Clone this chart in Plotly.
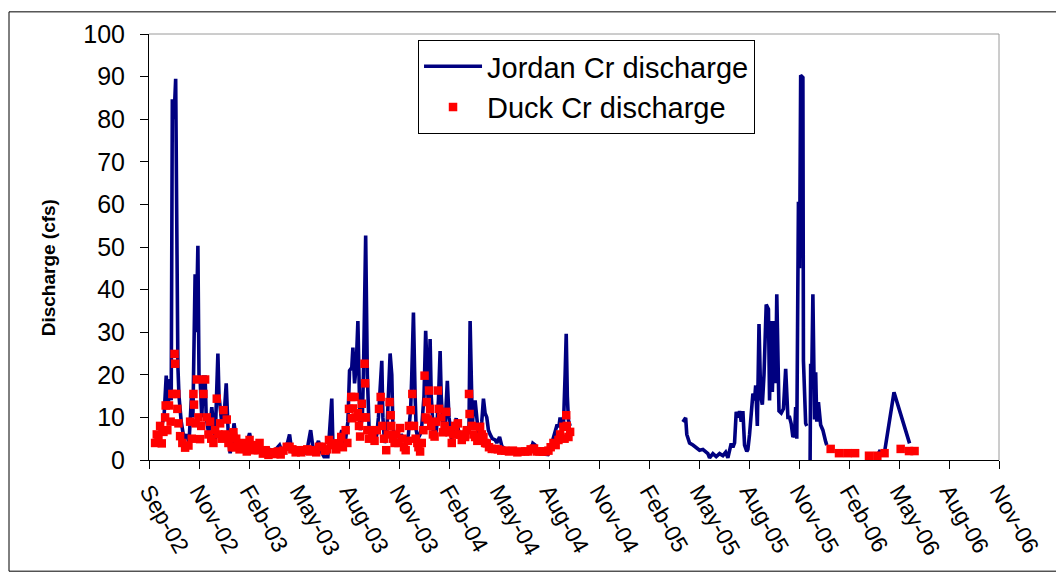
import plotly.graph_objects as go

# ---------------- data ----------------
jordan_dates = [
    "2002-09-17","2002-09-20","2002-09-24","2002-09-28","2002-10-02","2002-10-05","2002-10-09","2002-10-11",
    "2002-10-13","2002-10-16","2002-10-19","2002-10-21","2002-10-23","2002-10-25","2002-10-29","2002-11-03",
    "2002-11-08","2002-11-12","2002-11-17","2002-11-19","2002-11-23","2002-11-25","2002-11-28","2002-11-30",
    "2002-12-02","2002-12-05","2002-12-08","2002-12-11","2002-12-13","2002-12-17","2002-12-20","2002-12-23",
    "2002-12-26","2002-12-29","2003-01-03","2003-01-05","2003-01-10","2003-01-14","2003-01-18","2003-01-22",
    "2003-01-25","2003-01-29","2003-02-01","2003-02-05","2003-02-08","2003-02-13","2003-02-17","2003-02-22",
    "2003-03-01","2003-03-05","2003-03-10","2003-03-16","2003-03-21","2003-03-28","2003-04-03","2003-04-10",
    "2003-04-17","2003-04-24","2003-04-30","2003-05-05","2003-05-12","2003-05-16","2003-05-21","2003-05-30",
    "2003-06-07","2003-06-12","2003-06-19","2003-06-24","2003-06-29","2003-07-03","2003-07-08","2003-07-13",
    "2003-07-20","2003-07-27","2003-07-29","2003-08-01","2003-08-07","2003-08-14","2003-08-18","2003-08-21",
    "2003-08-25","2003-08-28","2003-09-01","2003-09-03","2003-09-06","2003-09-09","2003-09-12","2003-09-14",
    "2003-09-16","2003-09-20","2003-09-22","2003-09-26","2003-09-29","2003-10-02","2003-10-07","2003-10-12",
    "2003-10-16","2003-10-19","2003-10-25","2003-10-27","2003-10-30","2003-11-03","2003-11-06","2003-11-09",
    "2003-11-12","2003-11-14","2003-11-17","2003-11-22","2003-11-29","2003-12-03","2003-12-08","2003-12-12",
    "2003-12-16","2003-12-18","2003-12-21","2003-12-24","2003-12-26","2003-12-29","2004-01-02","2004-01-05",
    "2004-01-09","2004-01-12","2004-01-15","2004-01-17","2004-01-20","2004-01-22","2004-01-26","2004-01-29",
    "2004-02-01","2004-02-04","2004-02-07","2004-02-09","2004-02-13","2004-02-16","2004-02-20","2004-02-23",
    "2004-02-28","2004-03-03","2004-03-07","2004-03-11","2004-03-14","2004-03-19","2004-03-23","2004-03-27",
    "2004-03-30","2004-04-01","2004-04-03","2004-04-05","2004-04-07","2004-04-10","2004-04-13","2004-04-16",
    "2004-04-19","2004-04-22","2004-04-25","2004-04-28","2004-05-01","2004-05-04","2004-05-07","2004-05-11",
    "2004-05-16","2004-05-19","2004-05-24","2004-05-28","2004-06-03","2004-06-09","2004-06-16","2004-06-23",
    "2004-06-30","2004-07-07","2004-07-14","2004-07-20","2004-07-23","2004-07-27","2004-07-30","2004-08-04",
    "2004-08-12","2004-08-19","2004-08-24","2004-08-28","2004-08-31","2004-09-04","2004-09-08","2004-09-10",
    "2004-09-13","2004-09-16","2004-09-19","2004-09-21","2004-09-23","2004-09-25","2004-09-28",
    "2004-10-15",
    "2005-04-19","2005-04-22","2005-04-24","2005-04-26","2005-04-29","2005-05-01","2005-05-07","2005-05-12",
    "2005-05-19","2005-05-25","2005-05-31","2005-06-03","2005-06-06","2005-06-12","2005-06-18","2005-06-24",
    "2005-06-30","2005-07-05","2005-07-09","2005-07-12","2005-07-15","2005-07-18","2005-07-21","2005-07-24",
    "2005-07-28","2005-07-30","2005-08-02","2005-08-05","2005-08-08","2005-08-12","2005-08-14","2005-08-17",
    "2005-08-20","2005-08-23","2005-08-26","2005-08-28","2005-08-31","2005-09-03","2005-09-06","2005-09-09",
    "2005-09-12","2005-09-16","2005-09-20","2005-09-22","2005-09-25","2005-09-27","2005-10-01","2005-10-03",
    "2005-10-05","2005-10-09","2005-10-13","2005-10-17","2005-10-21","2005-10-25","2005-10-28","2005-10-31",
    "2005-11-03","2005-11-06","2005-11-08","2005-11-10","2005-11-13","2005-11-15","2005-11-17","2005-11-21",
    "2005-11-22","2005-11-26","2005-11-28",
    "2005-12-01",
    "2005-12-04","2005-12-05","2005-12-07","2005-12-09","2005-12-12","2005-12-14","2005-12-16","2005-12-19",
    "2005-12-23","2005-12-27","2006-01-01","2006-01-03",
    "2006-02-15",
    "2006-04-05","2006-04-10","2006-04-17","2006-05-04","2006-06-01",
]
jordan_cfs = [
    5,6.3,8,10,19.8,12,19,14,
    84.7,80,89.5,40,22,15,9,5,
    6,4,16.3,10,43.6,30,50.3,20,
    19,10,19.5,19.5,10,6.5,8,12.4,
    7,4.5,25,15,8.7,10,18,5,
    1.6,4,8.6,5,4,3,2.5,3,
    6.3,3.5,2.3,3.5,2.5,2.0,2.7,2.2,
    2.5,3.5,1.5,2.3,6,2,1.8,1.5,
    1.5,2,7,2,3,4.5,2,0.8,
    0.8,14.4,4,2.2,3.5,7,4,5,
    9,21,21.7,26.4,18,22,32.6,15,
    7,10,20,52.7,20,8,5,4,
    6,10,23.3,10,4,6,15,25,
    20,8,5,4,6,5,4,6,
    12,20,34.6,15,7,5,6,8,
    15,30.3,20,12,28.4,15,6,5,
    8,14,25.6,15,6,8,18.6,10,
    5,7,9.8,7,5,4,7.8,6,
    8,32.6,15,8,12,14,10,6,
    6,9,14.4,11,10,7,6,5,
    4.7,4,5.4,3.3,2.5,2.6,2.2,2,
    1.8,2,1.6,2.5,3.9,3.5,2,1.5,
    1.3,1.3,3,5,6.6,8,8,10,
    7,8,20,29.6,15,9.3,8,
    None,
    8.9,9.5,9.9,6,4.3,4,3.5,3,
    2.3,2.5,2,1.5,0.5,1.5,0.8,1.5,
    1.0,1.8,0.5,2,3.9,3,4,11.3,
    10,11.5,9,11.5,3.5,2,2.5,6,
    10,15.6,14,17.5,8,31.9,15,13,
    20,36.5,35.4,14,32.6,16,32.6,18,
    38.9,11.5,11,12,21.4,10,10,8.5,
    5.4,6,12.4,5,60.6,45,90.3,89.8,
    23.3,8.6,8,
    None,
    0,22.6,20,38.9,9.5,20.6,9,13.6,
    8.2,7,4.3,3.5,
    None,
    2.2,1.8,1.9,15.9,3.9,
]

duck_dates = [
    "2002-09-12","2002-09-15","2002-09-18","2002-09-21","2002-09-24","2002-09-27","2002-09-30","2002-10-01",
    "2002-10-04","2002-10-07","2002-10-10","2002-10-13","2002-10-17","2002-10-18","2002-10-20","2002-10-22",
    "2002-10-24","2002-10-27","2002-10-31","2002-11-05","2002-11-11","2002-11-14","2002-11-17","2002-11-20",
    "2002-11-21","2002-11-24","2002-11-26","2002-11-29","2002-12-02","2002-12-04","2002-12-08","2002-12-11",
    "2002-12-14","2002-12-17","2002-12-20","2002-12-22","2002-12-26","2002-12-29","2003-01-01","2003-01-04",
    "2003-01-07","2003-01-10","2003-01-13","2003-01-16","2003-01-19","2003-01-22","2003-01-25","2003-01-28",
    "2003-01-31","2003-02-03","2003-02-05","2003-02-08","2003-02-11","2003-02-15","2003-02-20","2003-02-24",
    "2003-03-01","2003-03-05","2003-03-08","2003-03-12","2003-03-16","2003-03-19","2003-03-25","2003-03-30",
    "2003-04-04","2003-04-10","2003-04-15","2003-04-21","2003-04-26","2003-05-01","2003-05-07","2003-05-12",
    "2003-05-17","2003-05-23","2003-05-28","2003-06-02","2003-06-08","2003-06-13","2003-06-18","2003-06-24",
    "2003-06-29","2003-07-04","2003-07-10","2003-07-15","2003-07-19","2003-07-22","2003-07-26","2003-07-31",
    "2003-08-04","2003-08-09","2003-08-13","2003-08-16","2003-08-21","2003-08-24","2003-08-27","2003-08-31",
    "2003-09-01","2003-09-03","2003-09-06","2003-09-08","2003-09-12","2003-09-14","2003-09-16","2003-09-19",
    "2003-09-21","2003-09-24","2003-09-25","2003-09-26","2003-09-29","2003-10-02","2003-10-04","2003-10-08",
    "2003-10-12","2003-10-16","2003-10-20","2003-10-23","2003-10-26","2003-10-29","2003-11-02","2003-11-05",
    "2003-11-08","2003-11-10","2003-11-11","2003-11-14","2003-11-17","2003-11-20","2003-11-24","2003-11-27",
    "2003-12-01","2003-12-04","2003-12-07","2003-12-11","2003-12-13","2003-12-16","2003-12-19","2003-12-22",
    "2003-12-25","2003-12-28","2003-12-30","2004-01-02","2004-01-05","2004-01-08","2004-01-10","2004-01-12",
    "2004-01-14","2004-01-16","2004-01-18","2004-01-20","2004-01-22","2004-01-25","2004-01-28","2004-01-31",
    "2004-02-03","2004-02-05","2004-02-09","2004-02-12","2004-02-15","2004-02-18","2004-02-22","2004-02-24",
    "2004-02-28","2004-03-02","2004-03-05","2004-03-07","2004-03-10","2004-03-14","2004-03-17","2004-03-23",
    "2004-03-26","2004-03-30","2004-03-31","2004-04-04","2004-04-07","2004-04-10","2004-04-14","2004-04-19",
    "2004-04-22","2004-04-25","2004-04-28","2004-05-01","2004-05-05","2004-05-10","2004-05-16","2004-05-21",
    "2004-05-27","2004-06-03","2004-06-10","2004-06-17","2004-06-25","2004-07-01","2004-07-09","2004-07-14",
    "2004-07-19","2004-07-25","2004-07-30","2004-08-04","2004-08-10","2004-08-15","2004-08-20","2004-08-24",
    "2004-08-29","2004-09-02","2004-09-07","2004-09-10","2004-09-16","2004-09-18","2004-09-21","2004-09-22",
    "2004-09-25","2004-09-28",
    "2006-01-10","2006-01-25","2006-02-09","2006-02-23","2006-03-20","2006-04-04","2006-04-17","2006-05-16",
    "2006-05-31","2006-06-10",
]
duck_cfs = [
    4,6,5,8,3.9,6.6,10,12.8,
    7,12.8,9,15.5,24.9,22.6,15.5,12,
    8.6,5.6,4,2.9,3.4,9,5,15.5,
    13,8.6,18.9,10,4.9,8,15.5,18.9,
    10,6,9,5,4,7,14.4,6,
    8.6,5,11.7,6,9.5,4,5.6,3,
    6.5,3,5,3.7,2.5,4,3.4,2,
    4.7,3,2.3,3.5,2.3,4,1.5,2.3,
    1.2,1.8,1.4,2,1.3,2.2,3.1,3.1,
    2.5,1.8,2.3,1.8,2.3,2.5,2,2.3,
    1.8,3.1,3.1,2.2,2.5,4.7,3.5,3.9,
    2.5,3.9,5.4,3,7,4,12,14.8,
    9.8,12.1,14.8,10,11,8,5.5,13.2,
    10,22.6,18,10,7,5,7,6,
    4.5,7,12,14.8,8,5,2.3,6,
    13.6,10.5,8,5,4,6,4,7.5,
    5,3,2.3,4.5,8,11.7,15.5,8,
    5,4,3,2,4,7,19.8,10,
    13.6,9.5,16.3,12,8,6,5.5,9,
    16.3,12,10,6.5,8,11.3,7,6.5,
    4,6,8,6,8.6,6,4.7,5.4,
    7,15.5,10.8,8,6,5.4,4.5,7.8,
    6,5.4,4,3.9,3,2.6,2.6,2.5,
    2.2,2.2,2.0,2.2,1.8,2.0,2.0,2,
    2.5,2.7,2,2,2,2,2.2,3,
    4,3.5,4.7,6,7.8,5,10.5,8,
    5.4,6.6,
    2.6,1.6,1.6,1.6,1.0,1.0,1.6,2.6,
    2.1,2.1,
]

tick_dates = [
    "2002-09-01","2002-11-30","2003-02-28","2003-05-29","2003-08-27","2003-11-25",
    "2004-02-23","2004-05-23","2004-08-21","2004-11-19","2005-02-17","2005-05-18",
    "2005-08-16","2005-11-14","2006-02-12","2006-05-13","2006-08-11","2006-11-09",
]
tick_labels = [
    "Sep-02","Nov-02","Feb-03","May-03","Aug-03","Nov-03","Feb-04","May-04","Aug-04",
    "Nov-04","Feb-05","May-05","Aug-05","Nov-05","Feb-06","May-06","Aug-06","Nov-06",
]

FONT = "Liberation Sans, Arial, sans-serif"

fig = go.Figure()
fig.add_trace(go.Scatter(
    x=jordan_dates, y=jordan_cfs, mode="lines", name="Jordan Cr discharge",
    line=dict(color="#000080", width=3.6), connectgaps=False, legendgroup="a",
))
fig.add_trace(go.Scatter(
    x=duck_dates, y=duck_cfs, mode="markers", name="Duck Cr discharge",
    marker=dict(symbol="square", color="#FF0000", size=8.5, line=dict(width=0)),
    legendgroup="b",
))

fig.update_layout(
    width=1056, height=566,
    margin=dict(l=141, r=65, t=23, b=114, pad=0),
    paper_bgcolor="white", plot_bgcolor="white",
    font=dict(family=FONT, color="black"),
    showlegend=True,
    legend=dict(
        x=0.3165, y=0.986, xanchor="left", yanchor="top",
        bgcolor="white", bordercolor="black", borderwidth=1,
        font=dict(size=29, family=FONT), tracegroupgap=0, itemwidth=58,
    ),
    xaxis=dict(
        type="date", range=["2002-09-01", "2006-11-09"],
        tickmode="array", tickvals=tick_dates, ticktext=tick_labels,
        tickangle=60, ticks="outside", ticklen=8, tickcolor="black", tickwidth=1,
        showline=True, linecolor="black", linewidth=1,
        showgrid=False, zeroline=False,
        tickfont=dict(size=23, family=FONT),
    ),
    yaxis=dict(
        range=[0, 100], tickmode="linear", tick0=0, dtick=10,
        ticks="outside", ticklen=8, tickcolor="black", tickwidth=1,
        showline=True, linecolor="black", linewidth=1,
        showgrid=False, zeroline=False, ticklabelstandoff=10,
        tickfont=dict(size=25, family=FONT),
    ),
    shapes=[
        dict(type="line", xref="paper", yref="paper", x0=0, x1=1, y0=1, y1=1,
             line=dict(color="#9a9a9a", width=1)),
        dict(type="line", xref="paper", yref="paper", x0=1, x1=1, y0=0, y1=1,
             line=dict(color="#9a9a9a", width=1)),
        dict(type="rect", xref="paper", yref="paper", x0=-0.1647, x1=1.0694, y0=-0.261, y1=1.052,
             line=dict(color="black", width=1)),
    ],
    annotations=[
        dict(text="<b>Discharge (cfs)</b>", xref="paper", yref="paper",
             x=-0.1188, y=0.45, showarrow=False, textangle=-90,
             font=dict(size=19, family=FONT), xanchor="center", yanchor="middle"),
    ],
)

fig.write_html("out.html")
